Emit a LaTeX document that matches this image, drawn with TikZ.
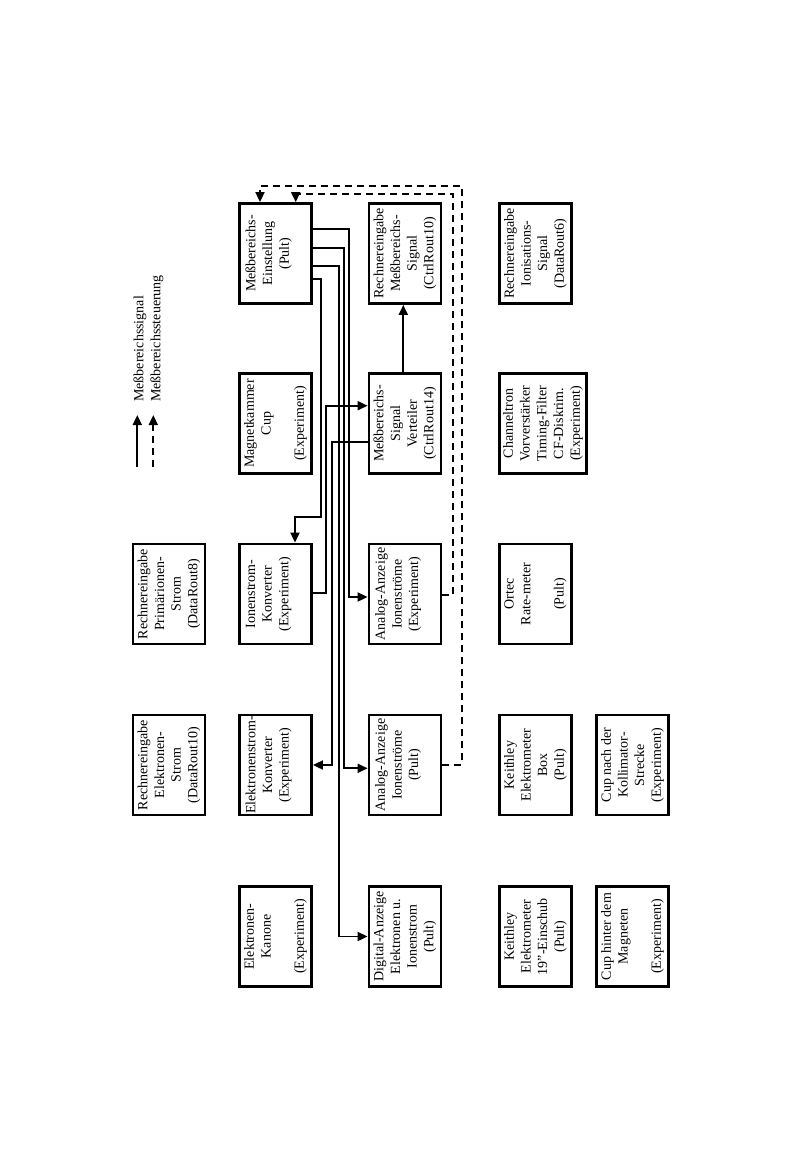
\documentclass[tikz,border=0pt]{standalone}
\usepackage{fontspec}
\setmainfont{Liberation Serif}
\usetikzlibrary{arrows.meta}
\begin{document}
\begin{tikzpicture}[x=1pt,y=-1pt,
  box/.style={draw, line width=2.8pt, minimum width=72pt, minimum height=100pt, inner sep=0pt},
  widebox/.style={box, minimum width=87pt},
  lbl/.style={rotate=90, align=center, inner sep=0pt, font=\fontsize{14pt}{16.7pt}\selectfont},
  sig/.style={line width=1.8pt, -{Triangle[length=10pt,width=9pt]}},
  ctl/.style={sig, dash pattern=on 7pt off 5pt}]
\useasboundingbox (0,0) rectangle (802,1175);

% column 1
\node[box, label={[lbl]center:{Rechnereingabe\\Primärionen-\\Strom\\(DataRout8)}}] (rpri) at (169,594) {};
\node[box, label={[lbl]center:{Rechnereingabe\\Elektronen-\\Strom\\(DataRout10)}}] (rel) at (169,765) {};
% column 2
\node[box, label={[lbl]center:{Meßbereichs-\\Einstellung\\(Pult)\\\mbox{}}}] (ein) at (275.5,253.5) {};
\node[box, label={[lbl]center:{Magnetkammer\\Cup\\\mbox{}\\(Experiment)}}] (mag) at (275.5,423.5) {};
\node[box, label={[lbl]center:{Ionenstrom-\\Konverter\\(Experiment)\\\mbox{}}}] (ionk) at (275.5,594) {};
\node[box, label={[lbl]center:{Elektronenstrom-\\Konverter\\(Experiment)\\\mbox{}}}] (elk) at (275.5,765) {};
\node[box, label={[lbl]center:{Elektronen-\\Kanone\\\mbox{}\\(Experiment)}}] (kan) at (275.5,936.5) {};
% column 3
\node[box, label={[lbl]center:{Rechnereingabe\\Meßbereichs-\\Signal\\(CtrlRout10)}}] (rmess) at (405,253.5) {};
\node[box, label={[lbl]center:{Meßbereichs-\\Signal\\Verteiler\\(CtrlRout14)}}] (vert) at (405,423.5) {};
\node[box, label={[lbl]center:{Analog-Anzeige\\Ionenströme\\(Experiment)\\\mbox{}}}] (anaexp) at (405,594) {};
\node[box, label={[lbl]center:{Analog-Anzeige\\Ionenströme\\(Pult)\\\mbox{}}}] (anapult) at (405,765) {};
\node[box, label={[lbl]center:{Digital-Anzeige\\Elektronen u.\\Ionenstrom\\(Pult)}}] (dig) at (405,936.5) {};
% column 4
\node[box, label={[lbl]center:{Rechnereingabe\\Ionisations-\\Signal\\(DataRout6)}}] (rion) at (535.5,253.5) {};
\node[widebox, label={[lbl]center:{Channeltron\\Vorverstärker\\Timing-Filter\\CF-Diskrim.\\(Experiment)}}] (chan) at (543,423.5) {};
\node[box, label={[lbl]center:{Ortec\\Rate-meter\\\mbox{}\\(Pult)}}] (ortec) at (535.5,594) {};
\node[box, label={[lbl]center:{Keithley\\Elektrometer\\Box\\(Pult)}}] (kbox) at (535.5,765) {};
\node[box, label={[lbl]center:{Keithley\\Elektrometer\\19"-Einschub\\(Pult)}}] (k19) at (535.5,936.5) {};
% column 5
\node[box, label={[lbl]center:{Cup nach der\\Kollimator-\\Strecke\\(Experiment)}}] (cnach) at (632.5,765) {};
\node[box, label={[lbl]center:{Cup hinter dem\\Magneten\\\mbox{}\\(Experiment)}}] (chint) at (632.5,936.5) {};

% legend
\coordinate (l1a) at (137.3,467);
\coordinate (l1b) at (137.3,415);
\coordinate (l2a) at (153.3,467);
\coordinate (l2b) at (153.3,415);
\draw[sig] (l1a) -- (l1b);
\draw[ctl] (l2a) -- (l2b);
\node[lbl, anchor=west] (lt1) at (140,402) {Meßbereichssignal};
\node[lbl, anchor=west] (lt2) at (157,402) {Meßbereichssteuerung};

% signal connectors
\draw[sig] ([yshift=24.5pt]ein.east) -| (349.3,597) -- ([yshift=-3pt]anaexp.west);
\draw[sig] ([yshift=5.5pt]ein.east) -| (344.3,768.3) -- ([yshift=-3.3pt]anapult.west);
\draw[sig] ([yshift=-12.5pt]ein.east) -| (339.3,936.5) -- (dig.west);
\draw[sig] ([yshift=-25.5pt]ein.east) -| (320.7,516.7) -| ([xshift=19.5pt]ionk.north);
\draw[sig] ([yshift=0.7pt]ionk.east) -| (326,405.7) -- ([yshift=17.8pt]vert.west);
\draw[sig] ([yshift=-18.2pt]vert.west) -| (332.3,765) -- (elk.east);
\draw[sig] ([xshift=-1.7pt]vert.north) -- ([xshift=-1.7pt]rmess.south);

% control connectors
\draw[ctl] ([yshift=-1pt]anaexp.east) -| (453,194) -| ([xshift=20.2pt]ein.north);
\draw[ctl] (anapult.east) -| (461.7,186) -| ([xshift=-15.5pt]ein.north);
\end{tikzpicture}
\end{document}
